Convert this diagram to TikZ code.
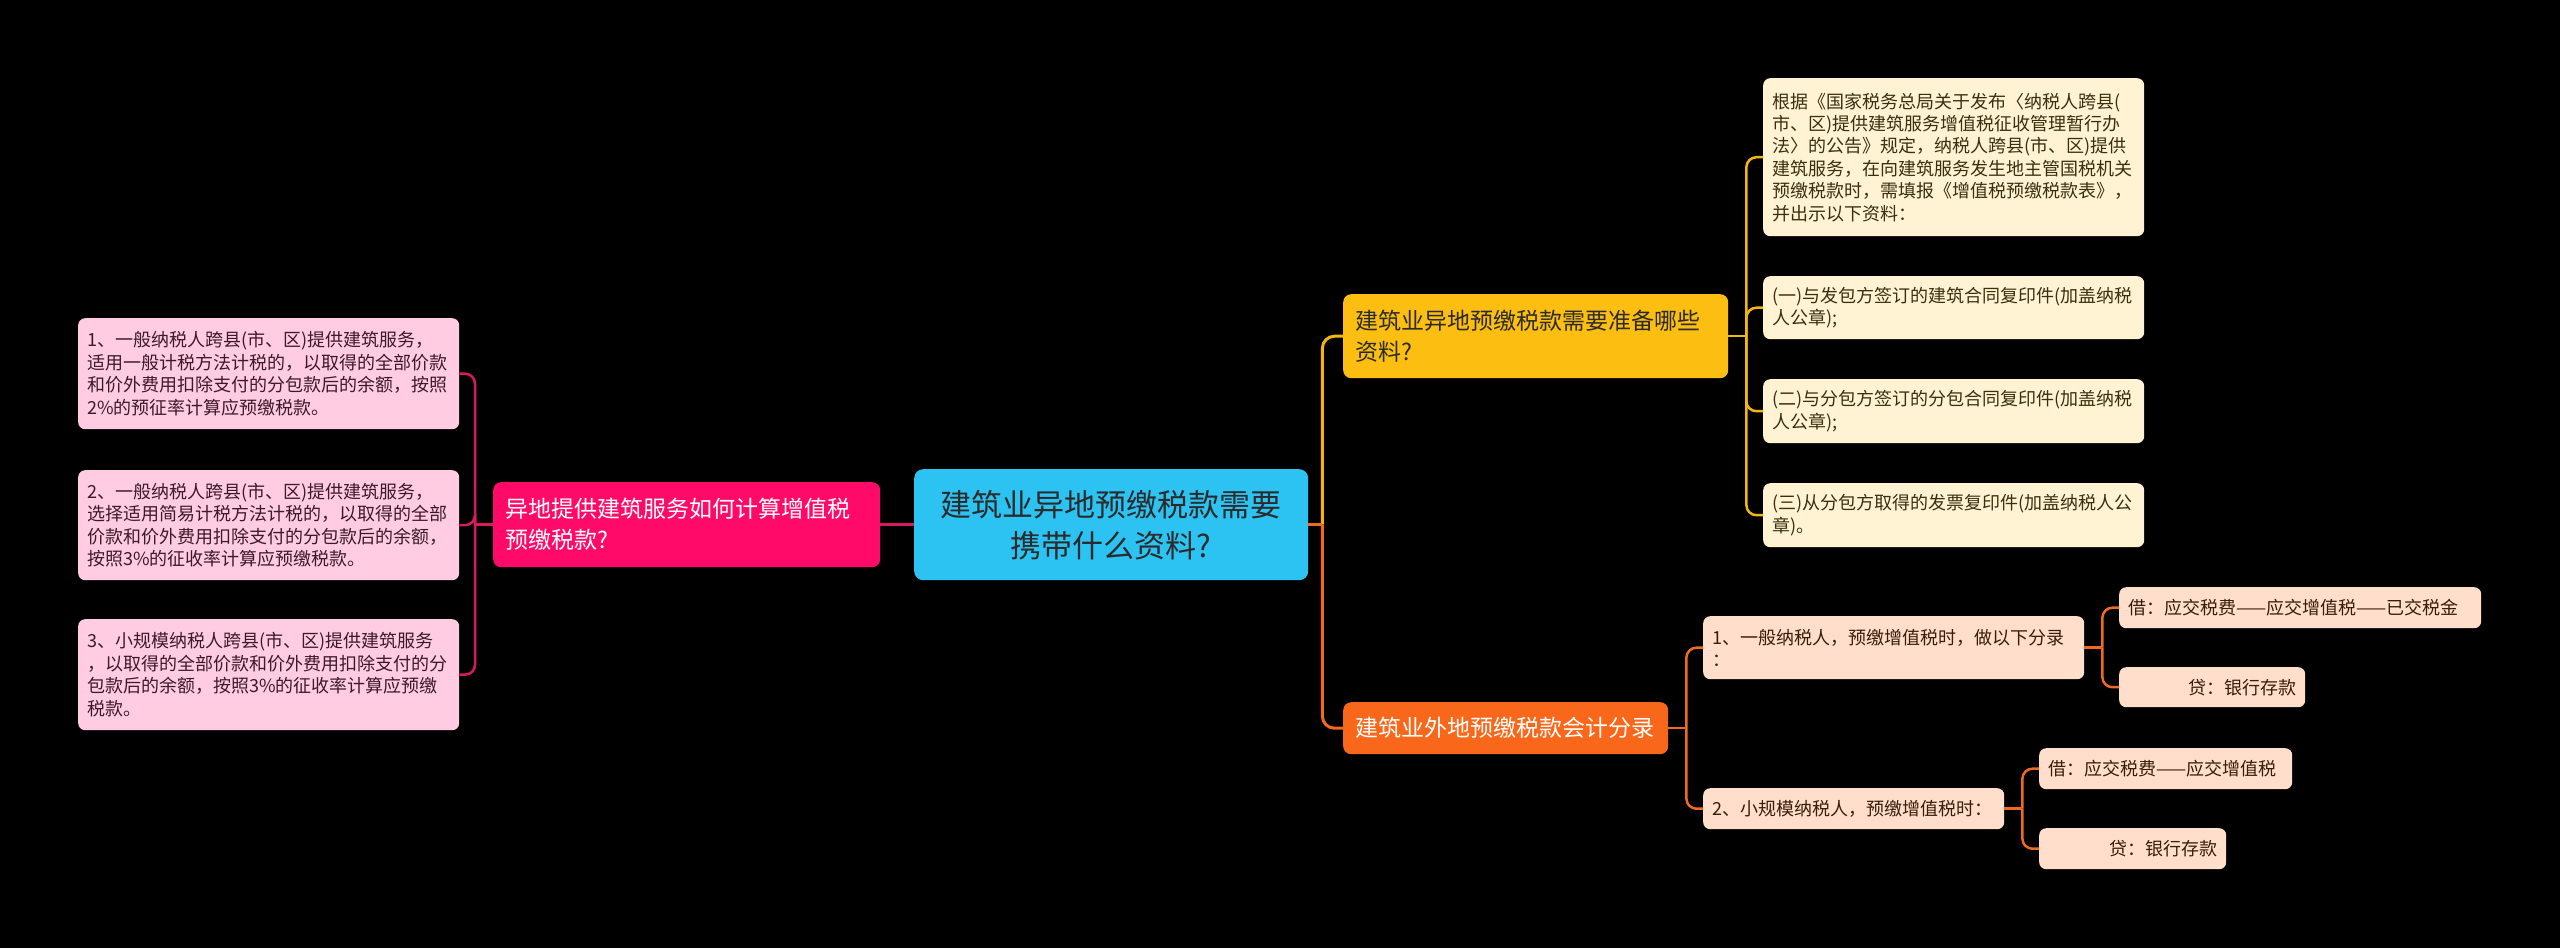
\documentclass[tikz,border=0pt]{standalone}
\usepackage{fontspec}
\setmainfont{Noto Sans CJK SC}
\definecolor{bg}{HTML}{000000}
\definecolor{cyanc}{HTML}{2CC3F3}
\definecolor{pinkm}{HTML}{FF0A68}
\definecolor{pinkl}{HTML}{FFCCE1}
\definecolor{pinkline}{HTML}{D81B60}
\definecolor{pinktxt}{HTML}{3D1A2B}
\definecolor{yelm}{HTML}{FDBE12}
\definecolor{yell}{HTML}{FFF3D4}
\definecolor{yelline}{HTML}{F2B60F}
\definecolor{yeltxt}{HTML}{3A300E}
\definecolor{orm}{HTML}{F8671A}
\definecolor{orl}{HTML}{FFDFCC}
\definecolor{orline}{HTML}{EE6A1E}
\definecolor{ortxt}{HTML}{3A1C0A}
\definecolor{darktxt}{HTML}{2B2B2B}
\begin{document}
\begin{tikzpicture}[x=1pt,y=-1pt,
  box/.style={anchor=north west, inner ysep=0pt, align=left, draw=none},
  leaf/.style={box, font=\fontsize{18}{22.4}\selectfont, rounded corners=7pt, inner xsep=9pt},
  mid/.style={box, font=\fontsize{23}{31}\selectfont, rounded corners=8pt, inner xsep=12pt},
  conn/.style={line width=2.5pt, rounded corners=10pt},
  mainconn/.style={line width=3pt, rounded corners=12pt}]
\fill[bg] (0,0) rectangle (2560,948);
\useasboundingbox (0,0) rectangle (2560,948);

% center
\node[box, fill=cyanc, text=darktxt, rounded corners=9pt, align=center,
  font=\fontsize{31}{41}\selectfont, inner xsep=10pt,
  minimum width=394, minimum height=111, text width=374pt] (C) at (914,469)
  {建筑业异地预缴税款需要\\携带什么资料?};

% left branch
\node[mid, fill=pinkm, text=white, minimum width=387, minimum height=85, text width=363pt] (P) at (493,482)
  {异地提供建筑服务如何计算增值税\\预缴税款?};
\node[leaf, fill=pinkl, text=pinktxt, minimum width=381, minimum height=111, text width=363pt] (P1) at (78,318)
  {1、一般纳税人跨县(市、区)提供建筑服务，\\适用一般计税方法计税的，以取得的全部价款\\和价外费用扣除支付的分包款后的余额，按照\\2\%的预征率计算应预缴税款。};
\node[leaf, fill=pinkl, text=pinktxt, minimum width=381, minimum height=110, text width=363pt] (P2) at (78,470)
  {2、一般纳税人跨县(市、区)提供建筑服务，\\选择适用简易计税方法计税的，以取得的全部\\价款和价外费用扣除支付的分包款后的余额，\\按照3\%的征收率计算应预缴税款。};
\node[leaf, fill=pinkl, text=pinktxt, minimum width=381, minimum height=111, text width=363pt] (P3) at (78,619)
  {3、小规模纳税人跨县(市、区)提供建筑服务\\，以取得的全部价款和价外费用扣除支付的分\\包款后的余额，按照3\%的征收率计算应预缴\\税款。};

% yellow branch
\node[mid, fill=yelm, text=darktxt, minimum width=385, minimum height=84, text width=361pt] (Y) at (1343,294)
  {建筑业异地预缴税款需要准备哪些\\资料?};
\node[leaf, fill=yell, text=yeltxt, minimum width=381, minimum height=158, text width=363pt] (Y0) at (1763,78)
  {根据《国家税务总局关于发布〈纳税人跨县(\\市、区)提供建筑服务增值税征收管理暂行办\\法〉的公告》规定，纳税人跨县(市、区)提供\\建筑服务，在向建筑服务发生地主管国税机关\\预缴税款时，需填报《增值税预缴税款表》，\\并出示以下资料：};
\node[leaf, fill=yell, text=yeltxt, minimum width=381, minimum height=63, text width=363pt] (Y1) at (1763,276)
  {(一)与发包方签订的建筑合同复印件(加盖纳税\\人公章);};
\node[leaf, fill=yell, text=yeltxt, minimum width=381, minimum height=64, text width=363pt] (Y2) at (1763,379)
  {(二)与分包方签订的分包合同复印件(加盖纳税\\人公章);};
\node[leaf, fill=yell, text=yeltxt, minimum width=381, minimum height=64, text width=363pt] (Y3) at (1763,483)
  {(三)从分包方取得的发票复印件(加盖纳税人公\\章)。};

% orange branch
\node[mid, fill=orm, text=white, minimum width=325, minimum height=52, text width=301pt] (O) at (1343,702)
  {建筑业外地预缴税款会计分录};
\node[leaf, fill=orl, text=ortxt, minimum width=381, minimum height=63, text width=363pt] (O1) at (1703,616)
  {1、一般纳税人，预缴增值税时，做以下分录\\：};
\node[leaf, fill=orl, text=ortxt, minimum width=301, minimum height=41, text width=283pt] (O2) at (1703,788)
  {2、小规模纳税人，预缴增值税时：};
\node[leaf, fill=orl, text=ortxt, minimum width=362, minimum height=41, text width=344pt] (O1a) at (2119,587)
  {借：应交税费——应交增值税——已交税金};
\node[leaf, fill=orl, text=ortxt, align=right, minimum width=186, minimum height=40, text width=168pt] (O1b) at (2119,667)
  {贷：银行存款};
\node[leaf, fill=orl, text=ortxt, minimum width=253, minimum height=41, text width=235pt] (O2a) at (2039,748)
  {借：应交税费——应交增值税};
\node[leaf, fill=orl, text=ortxt, align=right, minimum width=187, minimum height=41, text width=169pt] (O2b) at (2039,828)
  {贷：银行存款};

% connectors: center
\draw[pinkline, mainconn] (C.west) -- (P.east);
\coordinate (jC) at ([xshift=14pt]C.east);
\draw[yelline, mainconn] (jC) |- (Y.west);
\draw[orline, mainconn] (jC) |- (O.west);
\draw[orline, mainconn] (C.east) -- (jC);

% left leaves
\coordinate (jP) at ([xshift=-18pt]P.west);
\draw[pinkline, conn] (P.west) -- (jP);
\draw[pinkline, conn] (jP) |- (P1.east);
\draw[pinkline, conn] (jP) |- (P2.east);
\draw[pinkline, conn] (jP) |- (P3.east);

% yellow leaves
\coordinate (jY) at ([xshift=18pt]Y.east);
\draw[yelline, conn] (Y.east) -- (jY);
\draw[yelline, conn] (jY) |- (Y0.west);
\draw[yelline, conn] (jY) |- (Y1.west);
\draw[yelline, conn] (jY) |- (Y2.west);
\draw[yelline, conn] (jY) |- (Y3.west);

% orange leaves
\coordinate (jO) at ([xshift=18pt]O.east);
\draw[orline, conn] (O.east) -- (jO);
\draw[orline, conn] (jO) |- (O1.west);
\draw[orline, conn] (jO) |- (O2.west);
\coordinate (jO1) at ([xshift=18pt]O1.east);
\draw[orline, conn] (O1.east) -- (jO1);
\draw[orline, conn] (jO1) |- (O1a.west);
\draw[orline, conn] (jO1) |- (O1b.west);
\coordinate (jO2) at ([xshift=18pt]O2.east);
\draw[orline, conn] (O2.east) -- (jO2);
\draw[orline, conn] (jO2) |- (O2a.west);
\draw[orline, conn] (jO2) |- (O2b.west);
\end{tikzpicture}
\end{document}
